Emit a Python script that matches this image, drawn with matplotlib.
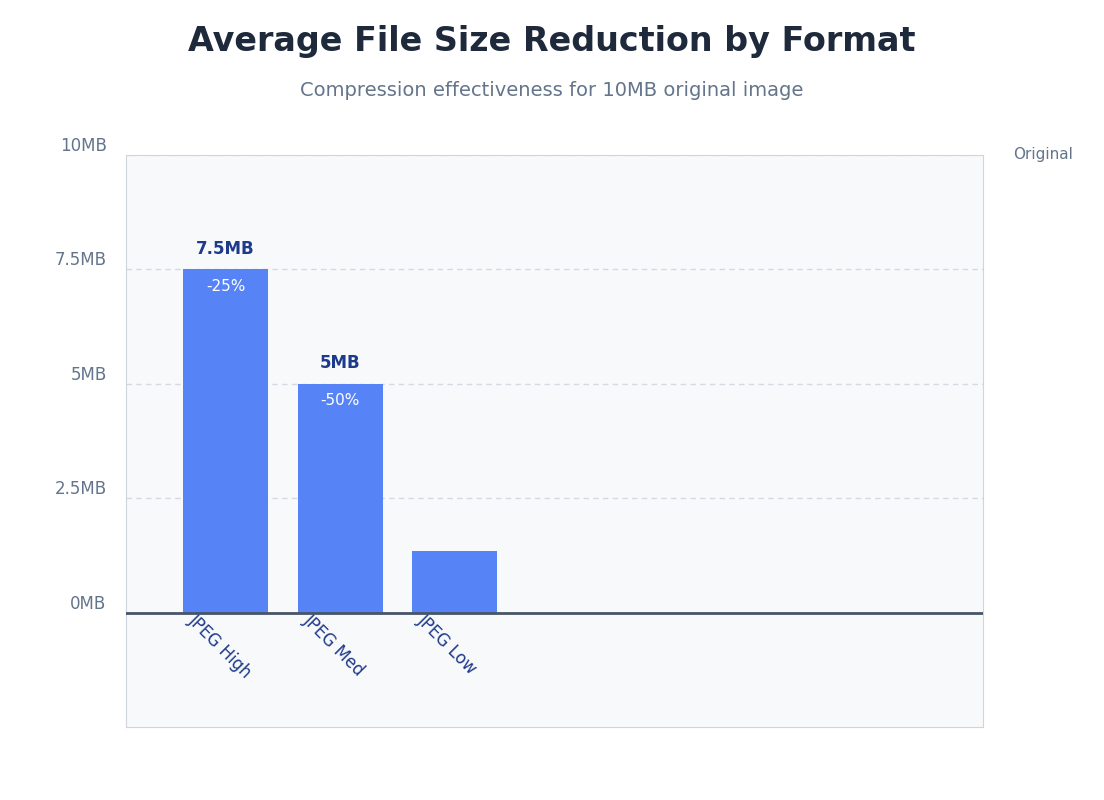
import matplotlib
matplotlib.use("Agg")
import matplotlib.pyplot as plt
from matplotlib.patches import FancyBboxPatch

formats = ["JPEG High", "JPEG Med", "JPEG Low"]
sizes_mb = [7.5, 5.0, 1.35]
size_labels = ["7.5MB", "5MB", ""]
pct_labels = ["-25%", "-50%", ""]
ytick_vals = [0, 2.5, 5, 7.5, 10]
ytick_labels = ["0MB", "2.5MB", "5MB", "7.5MB", "10MB"]
original_mb = 10

fig = plt.figure(figsize=(11.04, 8.0), dpi=100)
ax = fig.add_axes([126 / 1104, 1 - 727 / 800, 857 / 1104, 572 / 800])
ax.set_facecolor("#f8f9fb")
for s in ax.spines.values():
    s.set_color("#cfd5df")
ax.set_xlim(-0.87, 6.61)
ax.set_ylim(-2.5, 10)

for y in ytick_vals[1:-1]:
    ax.axhline(y, color="#d5d9e0", ls=(0, (4, 3)), lw=1, zorder=1)
ax.axhline(original_mb, color="#aab2c0", ls=(0, (6, 4)), lw=1.5, zorder=1)
ax.axhline(0, color="#475569", lw=2, zorder=3)

x = list(range(len(formats)))
ax.bar(x, sizes_mb, width=0.74, color="#5683f6", zorder=2)
for xi, v, sl, pl in zip(x, sizes_mb, size_labels, pct_labels):
    if sl:
        ax.text(xi, v + 0.25, sl, ha="center", va="bottom", fontsize=12,
                fontweight="bold", color="#1e3a8a")
    if pl:
        ax.text(xi, v - 0.2, pl, ha="center", va="top", fontsize=11, color="white")
    ax.text(xi - 0.3, -0.1, formats[xi], rotation=-45, rotation_mode="anchor",
            ha="left", va="center", fontsize=12, color="#1e3a8a", zorder=4)

ax.set_xticks([])
ax.set_yticks(ytick_vals)
ax.set_yticklabels(ytick_labels, fontsize=12, color="#64748b")
ax.tick_params(axis="y", length=0, pad=14)
for lbl in ax.get_yticklabels():
    lbl.set_verticalalignment("bottom")
ax.text(1.035, original_mb, "Original", transform=ax.get_yaxis_transform(),
        ha="left", va="center", fontsize=11, color="#64748b")

fig.text(0.5, 1 - 42 / 800, "Average File Size Reduction by Format", ha="center",
         va="center", fontsize=24, fontweight="bold", color="#1e293b")
fig.text(0.5, 1 - 90 / 800, "Compression effectiveness for 10MB original image",
         ha="center", va="center", fontsize=14, color="#64748b")

fig.savefig("out.png", dpi=100, facecolor="white")
